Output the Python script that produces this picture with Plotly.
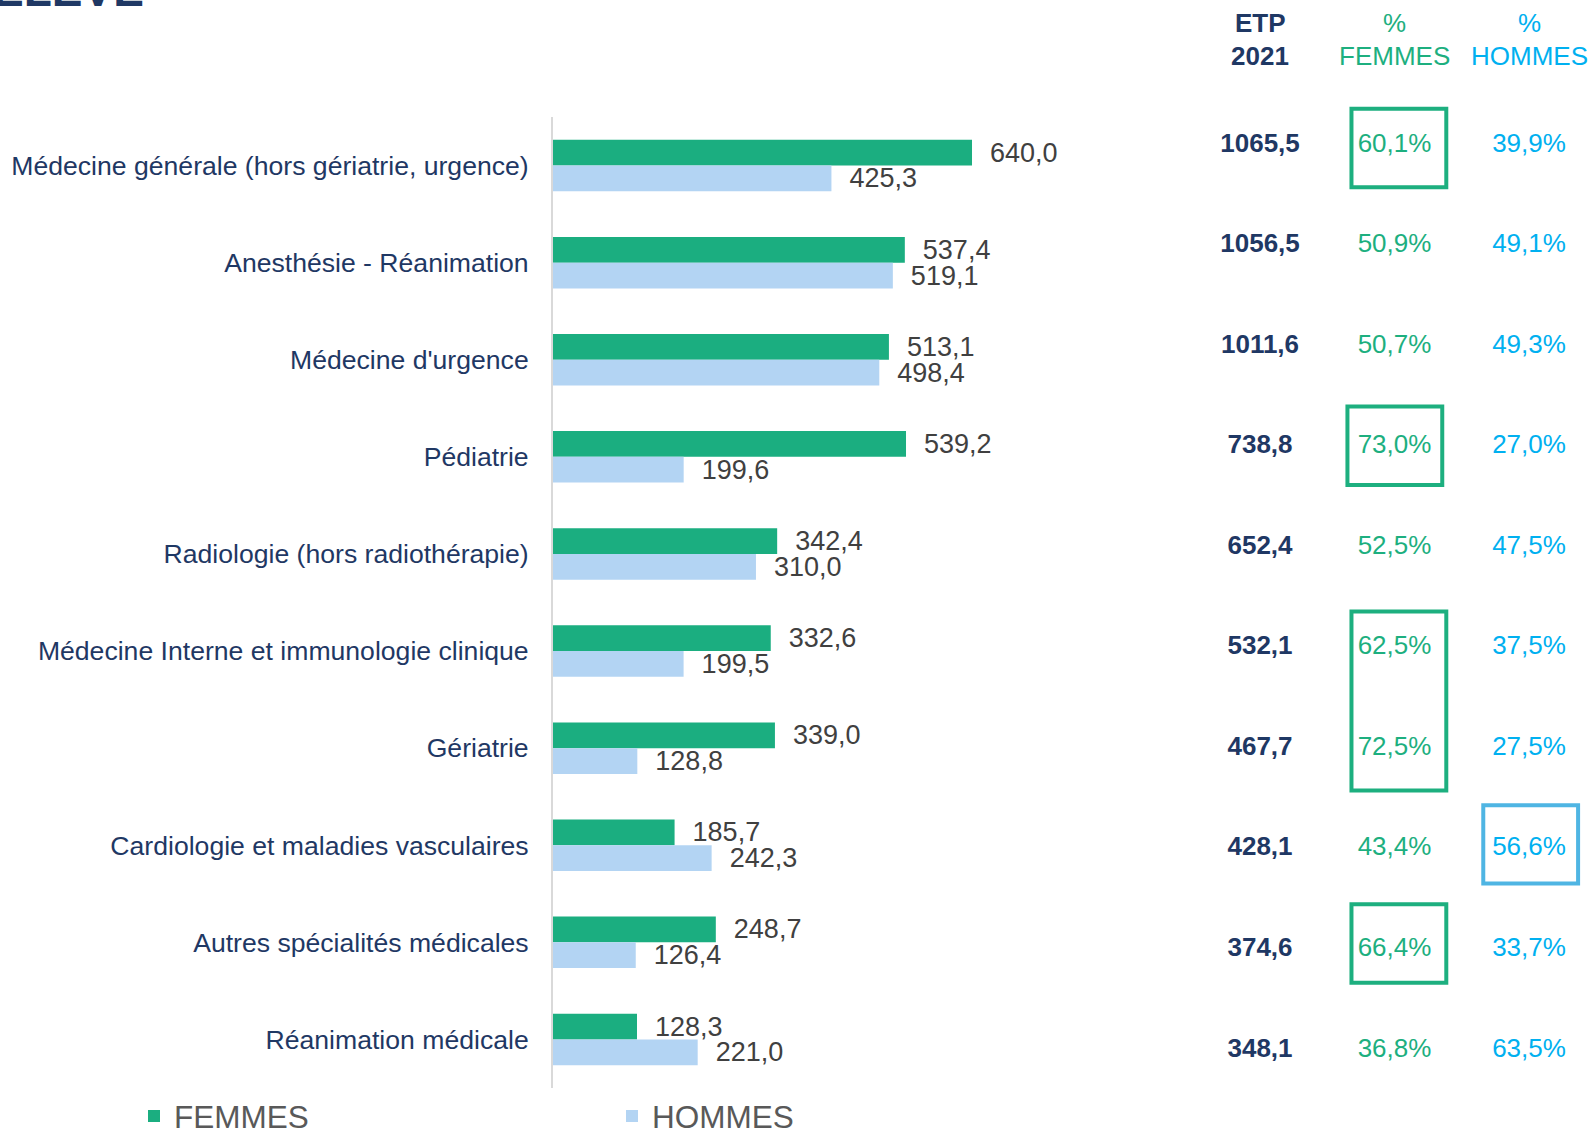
import plotly.graph_objects as go

categories = [
    "Médecine générale (hors gériatrie, urgence)",
    "Anesthésie - Réanimation",
    "Médecine d'urgence",
    "Pédiatrie",
    "Radiologie (hors radiothérapie)",
    "Médecine Interne et immunologie clinique",
    "Gériatrie",
    "Cardiologie et maladies vasculaires",
    "Autres spécialités médicales",
    "Réanimation médicale",
]
femmes = [640.0, 537.4, 513.1, 539.2, 342.4, 332.6, 339.0, 185.7, 248.7, 128.3]
hommes = [425.3, 519.1, 498.4, 199.6, 310.0, 199.5, 128.8, 242.3, 126.4, 221.0]
etp = ["1065,5", "1056,5", "1011,6", "738,8", "652,4", "532,1", "467,7", "428,1", "374,6", "348,1"]
pct_f = ["60,1%", "50,9%", "50,7%", "73,0%", "52,5%", "62,5%", "72,5%", "43,4%", "66,4%", "36,8%"]
pct_h = ["39,9%", "49,1%", "49,3%", "27,0%", "47,5%", "37,5%", "27,5%", "56,6%", "33,7%", "63,5%"]
# highlighted cells: (column index, first row, last row)
highlights = [(1, 0, 0), (1, 3, 3), (1, 5, 6), (2, 7, 7), (1, 8, 8)]
# small hand-drawn offsets of each highlight box (x, y in table units)
box_nudge = [(0, 0.03), (-0.03, -0.01), (0, 0.03), (-0.02, -0.045), (0, -0.06)]

FONT = "Liberation Sans, Arial, sans-serif"
NAVY = "#1F3864"
GREEN = "#1BAE80"
TGREEN = "#1DAF7F"
LIGHTBLUE = "#B3D4F3"
CYAN = "#00B0F0"
BOXBLUE = "#4FB5E3"
GREY = "#404040"

W, H = 1591, 1131
L, R, T, B = 553, 0, 0, 43
PW = W - L - R
PH = H - T - B
BAR_TOP = 117  # top of the bar panel, px


def px_x(px):
    return (px - L) / PW


def px_y(py):
    return (H - B - py) / PH


fig = go.Figure()
for name, vals, col in (("FEMMES", femmes, GREEN), ("HOMMES", hommes, LIGHTBLUE)):
    fig.add_trace(go.Bar(
        y=categories, x=vals, orientation="h", name=name,
        marker=dict(color=col, line=dict(width=0)),
        texttemplate="  %{x:.1f}", textposition="outside",
        textfont=dict(size=27, color=GREY, family=FONT),
        constraintext="none", cliponaxis=False, hoverinfo="skip",
    ))

# table columns
cols = [(etp, NAVY, "bold"), (pct_f, TGREEN, "normal"), (pct_h, CYAN, "normal")]
for ci, (vals, col, wt) in enumerate(cols):
    fig.add_trace(go.Scatter(
        x=[ci] * len(vals), y=categories, xaxis="x2", yaxis="y2",
        mode="text", text=vals, textposition="middle center",
        textfont=dict(size=26, color=col, family=FONT, weight=wt),
        showlegend=False, hoverinfo="skip", cliponaxis=False,
    ))

shapes = []
for (ci, r0, r1), (dx, dy) in zip(highlights, box_nudge):
    color = BOXBLUE if ci == 2 else TGREEN
    shapes.append(dict(
        type="rect", xref="x2", yref="y2",
        x0=ci - 0.32 + dx, x1=ci + 0.385 + dx, y0=r0 - 0.39 + dy, y1=r1 + 0.39 + dy,
        line=dict(color=color, width=4), fillcolor="rgba(0,0,0,0)",
    ))

annotations = []
headers = [("ETP", "2021", NAVY, "bold"), ("%", "FEMMES", TGREEN, "normal"), ("%", "HOMMES", CYAN, "normal")]
for ci, (h1, h2, col, wt) in enumerate(headers):
    for txt, py in ((h1, 23), (h2, 56)):
        annotations.append(dict(
            xref="x2", yref="paper", x=ci, y=px_y(py), text=txt,
            showarrow=False, xanchor="center", yanchor="middle",
            font=dict(size=26, color=col, family=FONT, weight=wt),
        ))
# cropped title fragment
annotations.append(dict(
    xref="paper", yref="paper", x=px_x(146), y=px_y(18), text="ÉLEVÉ",
    showarrow=False, xanchor="right", yanchor="bottom",
    font=dict(size=46, color=NAVY, family=FONT, weight="bold"),
))

row_px = 100.56  # table row spacing in px
row0 = 145       # first table row centre, px
fig.update_layout(
    width=W, height=H,
    margin=dict(l=L, r=R, t=T, b=B, pad=0, autoexpand=False),
    paper_bgcolor="white", plot_bgcolor="white",
    barmode="group", bargap=0.47, bargroupgap=0,
    separators=", ",
    font=dict(family=FONT),
    xaxis=dict(domain=[0, 0.6055], range=[0, 960], visible=False, fixedrange=True),
    yaxis=dict(
        domain=[0, px_y(BAR_TOP)],
        type="category", categoryarray=categories, range=[9.5, -0.5],
        showline=True, linecolor="#D9D9D9", linewidth=2,
        ticks="", ticklabelstandoff=17,
        tickfont=dict(size=26.6, color=NAVY, family=FONT),
        showgrid=False, zeroline=False,
    ),
    xaxis2=dict(domain=[(1180 - L) / PW, 1], range=[-0.595, 2.461], visible=False, anchor="y2"),
    yaxis2=dict(domain=[0, 1], type="category", categoryarray=categories,
                range=[9 + (H - B - row0 - 9 * row_px) / row_px, -row0 / row_px],
                visible=False, anchor="x2"),
    legend=dict(
        orientation="h", x=px_x(134), xanchor="left", y=px_y(1116), yanchor="middle",
        font=dict(size=31.5, color="#595959", family=FONT),
        entrywidth=433, entrywidthmode="pixels",
        bgcolor="rgba(0,0,0,0)", traceorder="normal",
    ),
    shapes=shapes,
    annotations=annotations,
    showlegend=True,
)

fig.write_html("out.html", config={"displayModeBar": False},
               post_script="document.body.style.margin='0';")
